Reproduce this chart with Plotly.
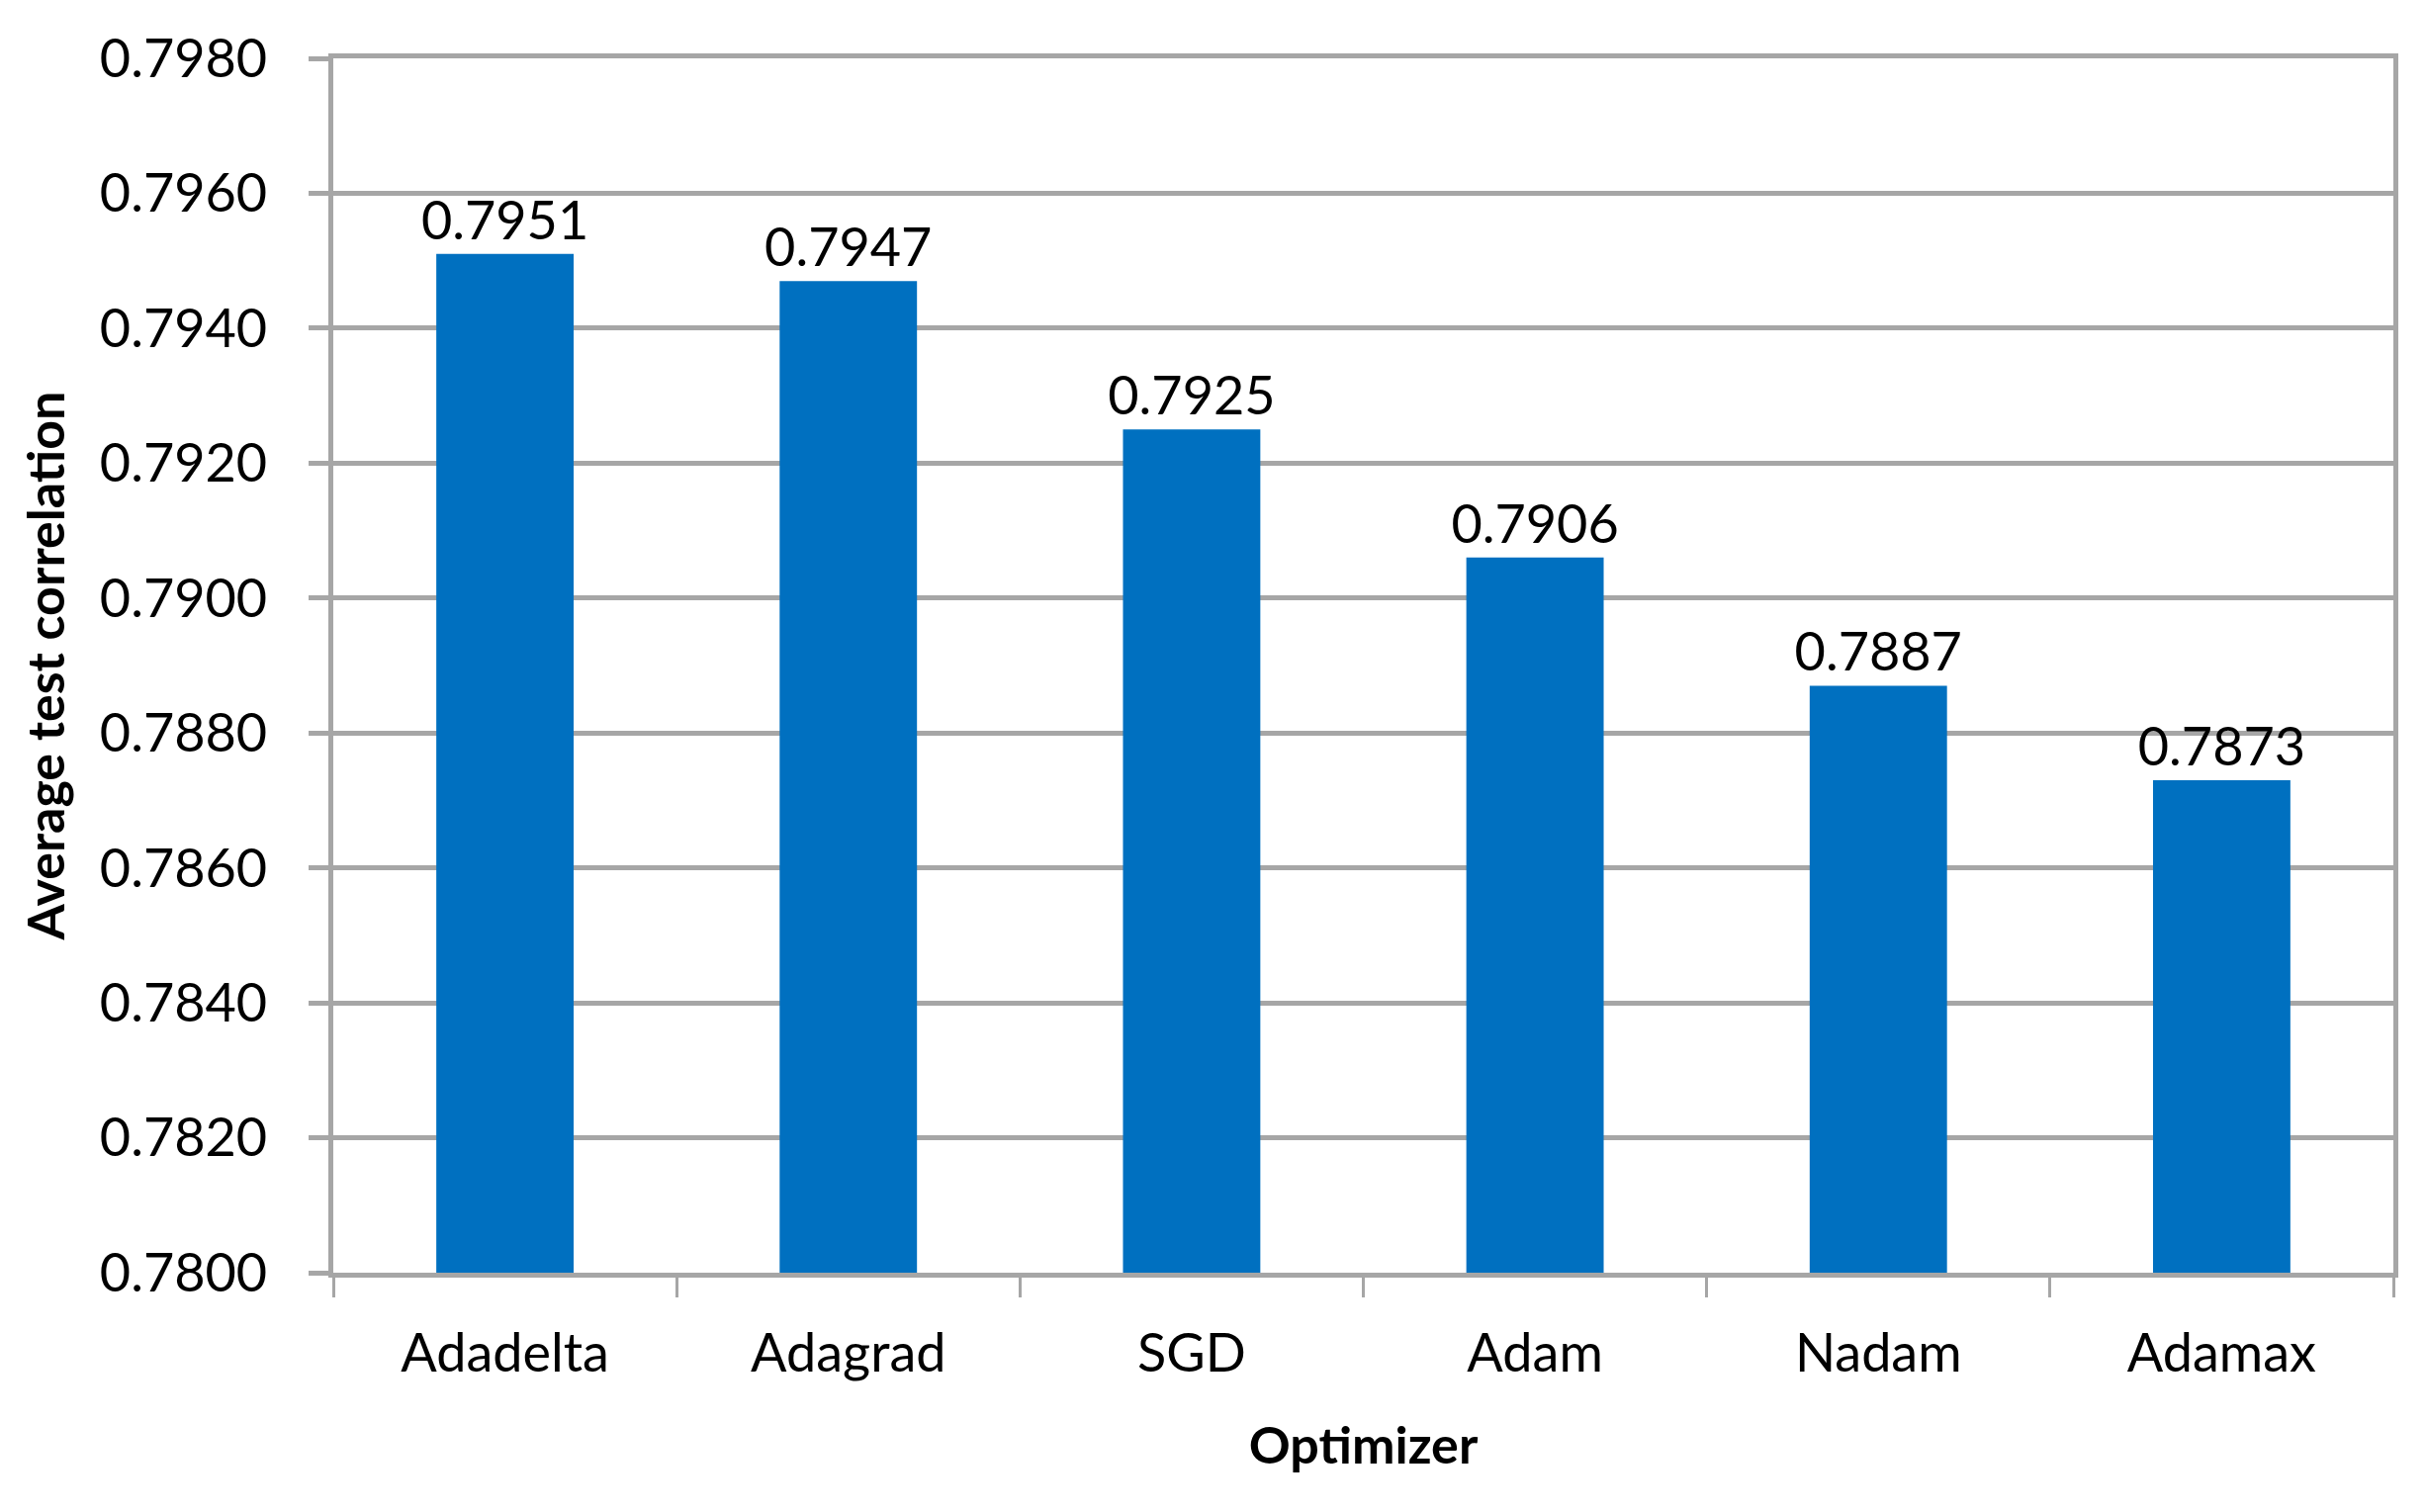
import plotly.graph_objects as go

optimizers = ["Adadelta", "Adagrad", "SGD", "Adam", "Nadam", "Adamax"]
avg_corr = [0.7951, 0.7947, 0.7925, 0.7906, 0.7887, 0.7873]
y_ticks = [0.7800, 0.7820, 0.7840, 0.7860, 0.7880, 0.7900, 0.7920, 0.7940, 0.7960, 0.7980]

FONT = "Lato"
GRAY = "#A6A6A6"

fig = go.Figure(
    go.Bar(
        x=optimizers,
        y=avg_corr,
        marker=dict(color="#0070C0", line=dict(width=0)),
        width=0.4,
        texttemplate="%{y:.4f}",
        textposition="outside",
        constraintext="none",
        textfont=dict(family=FONT, size=54, color="#000000"),
        cliponaxis=False,
    )
)

fig.update_layout(
    width=2453,
    height=1529,
    margin=dict(l=329, r=41, t=51, b=250, autoexpand=False),
    paper_bgcolor="white",
    plot_bgcolor="white",
    showlegend=False,
    font=dict(family=FONT, color="#000000"),
    bargap=0.6,
)

fig.update_xaxes(
    type="category",
    showline=True,
    linecolor=GRAY,
    linewidth=5,
    mirror=True,
    ticks="outside",
    tickson="boundaries",
    ticklen=20,
    tickwidth=3,
    tickcolor=GRAY,
    tickfont=dict(family=FONT, size=54, color="#000000"),
    ticklabelstandoff=30,
    showgrid=False,
    title=dict(text="<b>Optimizer</b>", font=dict(family=FONT, size=52, color="#000000"), standoff=47),
)

fig.update_yaxes(
    range=[0.7800, 0.7980],
    tickvals=y_ticks,
    ticktext=[f"{v:.4f}" for v in y_ticks],
    showline=True,
    linecolor=GRAY,
    linewidth=5,
    mirror=True,
    ticks="outside",
    ticklen=20,
    tickwidth=5,
    tickcolor=GRAY,
    tickfont=dict(family=FONT, size=54, color="#000000"),
    ticklabelstandoff=31,
    showgrid=True,
    gridcolor=GRAY,
    gridwidth=5,
    zeroline=False,
    title=dict(text="<b>Average test correlation</b>", font=dict(family=FONT, size=52, color="#000000"), standoff=20),
)

fig.write_html("out.html")
